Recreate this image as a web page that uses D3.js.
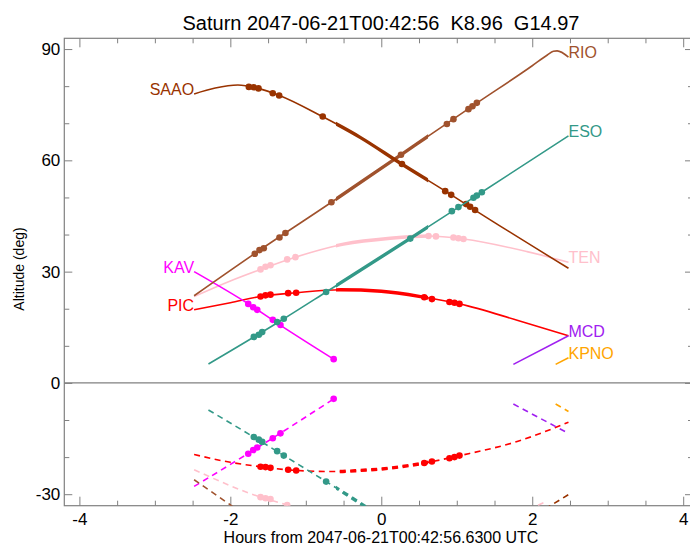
<!DOCTYPE html>
<html>
<head>
<meta charset="utf-8">
<script src="https://cdn.jsdelivr.net/npm/d3@7"></script>
<style>
body { margin: 0; background: #fff; }
text { font-family: "Liberation Sans", Arial, sans-serif; }
</style>
</head>
<body>
<div id="chart"></div>
<script>
// sites and their colours
var sites = ["TEN", "PIC", "KAV", "RIO", "SAAO", "ESO", "MCD", "KPNO"];
var siteColors = ["#ffc0cb", "#ff0000", "#ff00ff", "#a0522d", "#993300", "#339988", "#a020f0", "#ffa500"];
var labelAtStart = ["PIC", "KAV", "SAAO"];

// Saturn altitude per site: [hours, deg]
var altTEN  = [[-2.48,23.3],[-2.0,27.5],[-1.6,30.6],[-1.14,33.9],[-0.5,37.4],[0.12,39.0],[0.63,39.6],[1.09,38.8],[1.93,35.4],[2.48,32.5]];
var altPIC  = [[-2.48,19.7],[-2.0,21.6],[-1.6,23.3],[-1.13,24.3],[-0.54,25.1],[0.0,24.7],[0.57,23.1],[1.04,21.3],[1.8,16.9],[2.48,12.7]];
var altKAV  = [[-2.48,30.0],[-1.76,21.3],[-1.34,15.6],[-0.63,6.4]];
var altRIO  = [[-2.48,23.5],[-1.61,35.8],[-0.66,48.7],[0.26,61.5],[1.27,75.5],[2.0,85.5],[2.2,88.4],[2.28,89.4],[2.33,89.5],[2.48,87.8]];
var altSAAO = [[-2.48,77.9],[-2.2,79.5],[-1.9,80.3],[-1.63,79.4],[-1.35,77.5],[-0.78,71.8],[-0.28,66.2],[0.27,59.0],[0.85,51.7],[1.24,46.6],[2.48,30.9]];
var altESO  = [[-2.29,5.1],[-1.29,17.3],[-0.73,24.5],[0.38,38.9],[1.33,51.4],[2.48,66.6]];
var altMCD  = [[1.75,5.0],[2.48,12.7]];
var altKPNO = [[2.31,5.0],[2.48,6.8]];

// Sun altitude per site (dashed)
var sunTEN  = [[-2.48,-23.4],[-1.6,-30.8],[-1.25,-32.9],[-0.9,-35.5]];
var sunTENLate = [[1.95,-34.2],[2.17,-32.1]];
var sunPIC  = [[-2.48,-19.3],[-2.0,-21.4],[-1.6,-22.6],[-1.13,-23.6],[-0.6,-23.9],[-0.28,-23.6],[0.0,-23.2],[0.57,-21.6],[1.04,-19.6],[1.8,-15.8],[2.48,-10.6]];
var sunKAV  = [[-2.48,-27.9],[-1.77,-19.1],[-1.34,-13.6],[-0.63,-4.3]];
var sunRIO  = [[-2.48,-26.1],[-2.0,-32.9],[-1.8,-35.8]];
var sunSAAO = [[2.05,-35.3],[2.24,-33.1],[2.48,-30.1]];
var sunESO  = [[-2.29,-7.3],[-1.69,-14.6],[-1.29,-19.6],[-0.73,-26.6],[-0.23,-33.1],[0.0,-36.2]];
var sunMCD  = [[1.75,-5.7],[2.48,-13.6]];
var sunKPNO = [[2.31,-5.7],[2.48,-7.7]];

// marked times on the altitude curves
var dotTEN  = [[-1.6,30.6],[-1.534,31.3],[-1.468,31.7],[-1.247,33.3],[-1.138,33.9],[0.626,39.6],[0.724,39.5],[0.956,39.2],[1.022,39.0],[1.089,38.8]];
var dotPIC  = [[-1.6,23.3],[-1.534,23.6],[-1.468,23.8],[-1.234,24.2],[-1.128,24.3],[0.569,23.1],[0.671,22.6],[0.903,21.8],[0.97,21.6],[1.036,21.3]];
var dotKAV  = [[-1.763,21.3],[-1.697,20.4],[-1.644,19.7],[-1.438,17.0],[-1.336,15.6],[-0.631,6.4]];
var dotRIO  = [[-1.676,34.8],[-1.614,35.8],[-1.557,36.3],[-1.349,39.2],[-1.27,40.4],[-0.661,48.7],[0.261,61.5],[0.869,69.8],[0.956,71.1],[1.155,73.8],[1.208,74.6],[1.266,75.5]];
var dotSAAO = [[-1.755,79.8],[-1.69,79.7],[-1.627,79.4],[-1.438,78.1],[-1.353,77.5],[-0.776,71.8],[0.274,59.0],[0.847,51.7],[0.926,50.7],[1.124,48.2],[1.177,47.5],[1.243,46.6]];
var dotESO  = [[-1.689,12.4],[-1.623,13.0],[-1.578,13.7],[-1.38,16.4],[-1.292,17.3],[-0.731,24.5],[0.384,38.9],[0.935,46.3],[1.022,47.4],[1.221,49.9],[1.266,50.5],[1.332,51.4]];

// marked times on the sun curves
var dotSunTEN = [[-1.6,-30.8],[-1.534,-31.1],[-1.468,-31.3],[-1.247,-32.9]];
var dotSunPIC = [[-1.6,-22.6],[-1.534,-22.7],[-1.468,-22.9],[-1.234,-23.4],[-1.128,-23.6],[0.569,-21.6],[0.671,-21.2],[0.903,-20.3],[0.97,-20.0],[1.036,-19.6]];
var dotSunKAV = [[-1.763,-19.1],[-1.697,-18.1],[-1.644,-17.4],[-1.438,-14.9],[-1.336,-13.6],[-0.631,-4.3]];
var dotSunESO = [[-1.689,-14.6],[-1.623,-15.3],[-1.578,-15.9],[-1.38,-18.4],[-1.292,-19.6],[-0.731,-26.6]];

// window drawn with the heavy line
var heavyWindow = [-0.6, 0.62];

var xTicks = [-4, -2, 0, 2, 4];
var yTicks = [-30, 0, 30, 60, 90];
var titleText = "Saturn 2047-06-21T00:42:56  K8.96  G14.97";
var xTitle = "Hours from 2047-06-21T00:42:56.6300 UTC";
var yTitle = "Altitude (deg)";

var altTracks = [altTEN, altPIC, altKAV, altRIO, altSAAO, altESO, altMCD, altKPNO];
var sunTracks = [[sunTEN, sunTENLate], [sunPIC], [sunKAV], [sunRIO], [sunSAAO], [sunESO], [sunMCD], [sunKPNO]];
var altDots = [dotTEN, dotPIC, dotKAV, dotRIO, dotSAAO, dotESO, [], []];
var sunDots = [dotSunTEN, dotSunPIC, dotSunKAV, [], [], dotSunESO, [], []];

var width = 690, height = 543;
var frameColor = "#808080";

var x = d3.scaleLinear().domain([-4.2, 4.13]).range([64.3, 693]);
var y = d3.scaleLinear().domain([-33.1, 92.9]).range([505.7, 38.3]);

var svg = d3.select("#chart").append("svg")
  .attr("width", width)
  .attr("height", height);

var defs = svg.append("defs");
defs.append("clipPath").attr("id", "plotClip")
  .append("rect")
  .attr("x", x.range()[0]).attr("y", y.range()[1])
  .attr("width", x.range()[1] - x.range()[0])
  .attr("height", y.range()[0] - y.range()[1]);
defs.append("clipPath").attr("id", "heavyClip")
  .append("rect")
  .attr("x", x(heavyWindow[0])).attr("y", 0)
  .attr("width", x(heavyWindow[1]) - x(heavyWindow[0]))
  .attr("height", height);

// zero line
svg.append("line")
  .attr("x1", x.range()[0]).attr("x2", x.range()[1])
  .attr("y1", y(0)).attr("y2", y(0))
  .attr("stroke", frameColor).attr("stroke-width", 1.2);

// plain hyphen for negatives, like the original plot
function tickLabel(v){ return String(v); }

// axes, ticks pointing inward
function styleAxis(g){
  g.select(".domain").remove();
  g.selectAll(".tick line").attr("stroke", frameColor).attr("stroke-width", 1);
  g.selectAll(".tick text").attr("fill", "#000").style("font-size", "17px")
    .style("font-family", '"Liberation Sans", Arial, sans-serif');
}
var xMinor = d3.range(-4, 4.01, 0.5).filter(function(v){ return xTicks.indexOf(v) < 0; });
var yMinor = d3.range(-30, 91, 10).filter(function(v){ return yTicks.indexOf(v) < 0; });

svg.append("g").attr("transform", "translate(0," + y.range()[0] + ")")
  .call(d3.axisBottom(x).tickValues(xTicks).tickSize(-9).tickPadding(7).tickFormat(tickLabel))
  .call(styleAxis);
svg.append("g").attr("transform", "translate(0," + y.range()[0] + ")")
  .call(d3.axisBottom(x).tickValues(xMinor).tickSize(-5).tickFormat(""))
  .call(styleAxis);
svg.append("g").attr("transform", "translate(0," + y.range()[1] + ")")
  .call(d3.axisTop(x).tickValues(xTicks).tickSize(-9).tickFormat(""))
  .call(styleAxis);
svg.append("g").attr("transform", "translate(0," + y.range()[1] + ")")
  .call(d3.axisTop(x).tickValues(xMinor).tickSize(-5).tickFormat(""))
  .call(styleAxis);
svg.append("g").attr("transform", "translate(" + x.range()[0] + ",0)")
  .call(d3.axisLeft(y).tickValues(yTicks).tickSize(-8).tickPadding(4).tickFormat(tickLabel))
  .call(styleAxis);
svg.append("g").attr("transform", "translate(" + x.range()[0] + ",0)")
  .call(d3.axisLeft(y).tickValues(yMinor).tickSize(-5).tickFormat(""))
  .call(styleAxis);
svg.append("g").attr("transform", "translate(" + x.range()[1] + ",0)")
  .call(d3.axisRight(y).tickValues(yTicks).tickSize(-8).tickFormat(""))
  .call(styleAxis);
svg.append("g").attr("transform", "translate(" + x.range()[1] + ",0)")
  .call(d3.axisRight(y).tickValues(yMinor).tickSize(-5).tickFormat(""))
  .call(styleAxis);

// frame
svg.append("rect")
  .attr("x", x.range()[0]).attr("y", y.range()[1])
  .attr("width", x.range()[1] - x.range()[0])
  .attr("height", y.range()[0] - y.range()[1])
  .attr("fill", "none").attr("stroke", frameColor).attr("stroke-width", 1.2);

var line = d3.line()
  .x(function(d){ return x(d[0]); })
  .y(function(d){ return y(d[1]); })
  .curve(d3.curveMonotoneX);

var plot = svg.append("g").attr("clip-path", "url(#plotClip)");

sites.forEach(function(site, i){
  var color = siteColors[i];
  var g = plot.append("g").attr("class", "site-" + site);

  // dashed sun curves, thin then heavy inside the window
  sunTracks[i].forEach(function(track){
    g.append("path").datum(track)
      .attr("d", line).attr("fill", "none")
      .attr("stroke", color).attr("stroke-width", 1.6)
      .attr("stroke-dasharray", "6,4.5");
    g.append("path").datum(track)
      .attr("d", line).attr("fill", "none")
      .attr("clip-path", "url(#heavyClip)")
      .attr("stroke", color).attr("stroke-width", 3.4)
      .attr("stroke-dasharray", "6,4.5");
  });

  // solid altitude curve
  g.append("path").datum(altTracks[i])
    .attr("d", line).attr("fill", "none")
    .attr("stroke", color).attr("stroke-width", 1.6);
  g.append("path").datum(altTracks[i])
    .attr("d", line).attr("fill", "none")
    .attr("clip-path", "url(#heavyClip)")
    .attr("stroke", color).attr("stroke-width", 3.4);

  g.selectAll("circle.alt")
    .data(altDots[i].concat(sunDots[i]))
    .enter()
    .append("circle")
    .attr("cx", function(d){ return x(d[0]); })
    .attr("cy", function(d){ return y(d[1]); })
    .attr("r", 3.3)
    .attr("fill", color);
});

// site names at the ends of the altitude curves
sites.forEach(function(site, i){
  var track = altTracks[i];
  var atStart = labelAtStart.indexOf(site) >= 0;
  var p = atStart ? track[0] : track[track.length - 1];
  svg.append("text")
    .attr("x", x(p[0]))
    .attr("y", y(p[1]) + 1)
    .attr("text-anchor", atStart ? "end" : "start")
    .attr("fill", siteColors[i])
    .style("font-size", "16px")
    .text(site);
});

// titles
svg.append("text")
  .attr("x", 381).attr("y", 30)
  .attr("text-anchor", "middle")
  .style("font-size", "20px")
  .style("white-space", "pre")
  .text(titleText);

svg.append("text")
  .attr("x", 381).attr("y", 543)
  .attr("text-anchor", "middle")
  .style("font-size", "16px")
  .text(xTitle);

svg.append("text")
  .attr("transform", "translate(24,269) rotate(-90)")
  .attr("text-anchor", "middle")
  .style("font-size", "14px")
  .text(yTitle);
</script>
</body>
</html>
